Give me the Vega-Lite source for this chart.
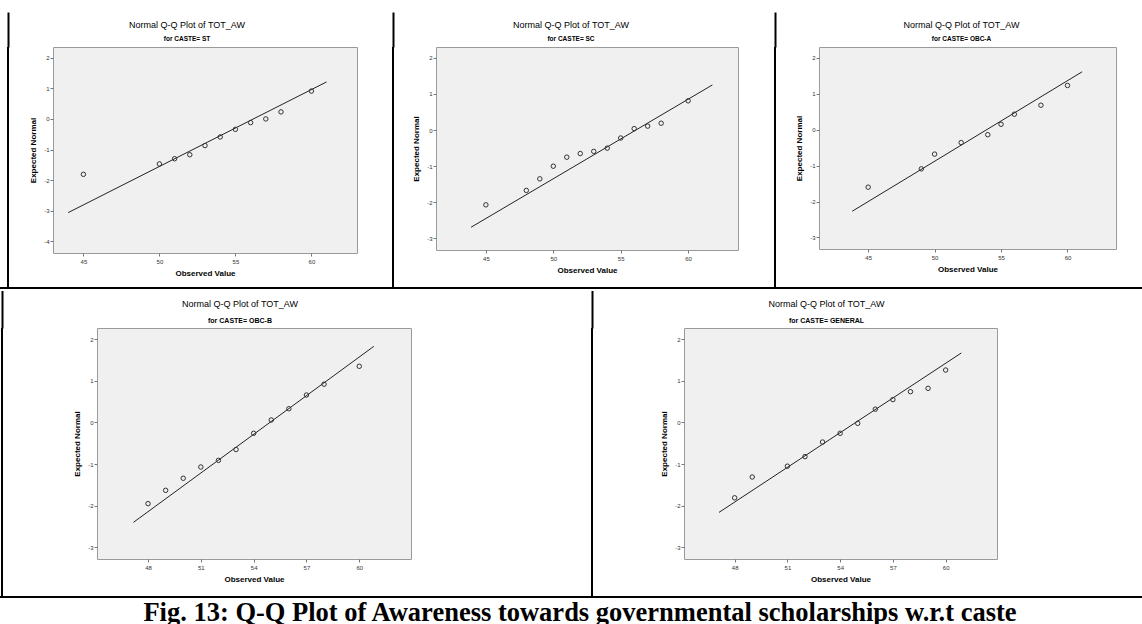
{
  "$schema": "https://vega.github.io/schema/vega-lite/v6.json",
  "background": "white",
  "padding": {"left": 0, "top": 11, "right": 0, "bottom": 0},
  "spacing": 0,
  "datasets": {
    "pts": [
      {"caste": "ST", "observed": 45, "expected": -1.81},
      {"caste": "ST", "observed": 50, "expected": -1.47},
      {"caste": "ST", "observed": 51, "expected": -1.30},
      {"caste": "ST", "observed": 52, "expected": -1.17},
      {"caste": "ST", "observed": 53, "expected": -0.87},
      {"caste": "ST", "observed": 54, "expected": -0.59},
      {"caste": "ST", "observed": 55, "expected": -0.34},
      {"caste": "ST", "observed": 56, "expected": -0.12},
      {"caste": "ST", "observed": 57, "expected": 0.0},
      {"caste": "ST", "observed": 58, "expected": 0.23},
      {"caste": "ST", "observed": 60, "expected": 0.91},
      {"caste": "SC", "observed": 45, "expected": -2.07},
      {"caste": "SC", "observed": 48, "expected": -1.67},
      {"caste": "SC", "observed": 49, "expected": -1.35},
      {"caste": "SC", "observed": 50, "expected": -1.0},
      {"caste": "SC", "observed": 51, "expected": -0.75},
      {"caste": "SC", "observed": 52, "expected": -0.65},
      {"caste": "SC", "observed": 53, "expected": -0.59},
      {"caste": "SC", "observed": 54, "expected": -0.50},
      {"caste": "SC", "observed": 55, "expected": -0.22},
      {"caste": "SC", "observed": 56, "expected": 0.04},
      {"caste": "SC", "observed": 57, "expected": 0.11},
      {"caste": "SC", "observed": 58, "expected": 0.19},
      {"caste": "SC", "observed": 60, "expected": 0.81},
      {"caste": "OBC-A", "observed": 45, "expected": -1.60},
      {"caste": "OBC-A", "observed": 49, "expected": -1.09},
      {"caste": "OBC-A", "observed": 50, "expected": -0.68},
      {"caste": "OBC-A", "observed": 52, "expected": -0.36},
      {"caste": "OBC-A", "observed": 54, "expected": -0.14},
      {"caste": "OBC-A", "observed": 55, "expected": 0.15},
      {"caste": "OBC-A", "observed": 56, "expected": 0.43},
      {"caste": "OBC-A", "observed": 58, "expected": 0.68},
      {"caste": "OBC-A", "observed": 60, "expected": 1.23},
      {"caste": "OBC-B", "observed": 48, "expected": -1.95},
      {"caste": "OBC-B", "observed": 49, "expected": -1.63},
      {"caste": "OBC-B", "observed": 50, "expected": -1.34},
      {"caste": "OBC-B", "observed": 51, "expected": -1.07},
      {"caste": "OBC-B", "observed": 52, "expected": -0.91},
      {"caste": "OBC-B", "observed": 53, "expected": -0.65},
      {"caste": "OBC-B", "observed": 54, "expected": -0.26},
      {"caste": "OBC-B", "observed": 55, "expected": 0.06},
      {"caste": "OBC-B", "observed": 56, "expected": 0.33},
      {"caste": "OBC-B", "observed": 57, "expected": 0.66},
      {"caste": "OBC-B", "observed": 58, "expected": 0.92},
      {"caste": "OBC-B", "observed": 60, "expected": 1.35},
      {"caste": "GENERAL", "observed": 48, "expected": -1.81},
      {"caste": "GENERAL", "observed": 49, "expected": -1.31},
      {"caste": "GENERAL", "observed": 51, "expected": -1.05},
      {"caste": "GENERAL", "observed": 52, "expected": -0.82},
      {"caste": "GENERAL", "observed": 53, "expected": -0.47},
      {"caste": "GENERAL", "observed": 54, "expected": -0.26},
      {"caste": "GENERAL", "observed": 55, "expected": -0.02},
      {"caste": "GENERAL", "observed": 56, "expected": 0.32},
      {"caste": "GENERAL", "observed": 57, "expected": 0.55},
      {"caste": "GENERAL", "observed": 58, "expected": 0.74},
      {"caste": "GENERAL", "observed": 59, "expected": 0.82},
      {"caste": "GENERAL", "observed": 60, "expected": 1.26}
    ],
    "lns": [
      {"caste": "ST", "observed": 44.0, "expected": -3.06},
      {"caste": "ST", "observed": 61.0, "expected": 1.21},
      {"caste": "SC", "observed": 43.9, "expected": -2.69},
      {"caste": "SC", "observed": 61.8, "expected": 1.25},
      {"caste": "OBC-A", "observed": 43.8, "expected": -2.27},
      {"caste": "OBC-A", "observed": 61.1, "expected": 1.61},
      {"caste": "OBC-B", "observed": 47.17, "expected": -2.40},
      {"caste": "OBC-B", "observed": 60.83, "expected": 1.83},
      {"caste": "GENERAL", "observed": 47.11, "expected": -2.16},
      {"caste": "GENERAL", "observed": 60.89, "expected": 1.67}
    ],
    "blank": [{}],
    "cap": [{"t": "Fig. 13: Q-Q Plot of Awareness towards governmental scholarships w.r.t caste"}]
  },
  "vconcat": [
    {
      "spacing": 0,
      "hconcat": [
        {"width": 7, "height": 1, "data": {"name": "blank"}, "mark": {"type": "rect", "opacity": 0}, "view": {"fill": null, "stroke": null}},
        {"width": 2, "height": 240, "data": {"name": "blank"}, "view": {"fill": null, "stroke": null},
          "layer": [
            {"mark": {"type": "rect", "color": "#000"}},
            {"mark": {"type": "point", "opacity": 0, "size": 1, "strokeWidth": 0}, "encoding": {"x": {"datum": 0.5, "type": "quantitative", "scale": {"domain": [0, 1]}, "axis": {"orient": "top", "values": [0.5], "tickSize": 35, "tickWidth": 2, "tickColor": "#000", "labels": false, "domain": false, "title": null}}}}
          ]},
        {"width": 20, "height": 1, "data": {"name": "blank"}, "mark": {"type": "rect", "opacity": 0}, "view": {"fill": null, "stroke": null}},
        {
          "width": 304, "height": 206,
          "title": {"text": ["", "Normal Q-Q Plot of TOT_AW"], "subtitle": "for CASTE= ST", "dx": -18},
          "encoding": {
            "x": {"field": "observed", "type": "quantitative", "scale": {"domain": [43, 63], "nice": false, "zero": false}, "axis": {"values": [45, 50, 55, 60], "title": "Observed Value"}},
            "y": {"field": "expected", "type": "quantitative", "scale": {"domain": [-4.38, 2.35], "nice": false, "zero": false}, "axis": {"values": [-4, -3, -2, -1, 0, 1, 2], "title": "Expected Normal"}}
          },
          "layer": [
            {"data": {"name": "lns"}, "transform": [{"filter": "datum.caste === 'ST'"}], "mark": {"type": "line", "color": "#222", "strokeWidth": 1}},
            {"data": {"name": "pts"}, "transform": [{"filter": "datum.caste === 'ST'"}], "mark": {"type": "point", "shape": "circle", "filled": false, "color": "#333", "size": 20, "strokeWidth": 1, "opacity": 1}}
          ]
        },
        {"width": 34, "height": 1, "data": {"name": "blank"}, "mark": {"type": "rect", "opacity": 0}, "view": {"fill": null, "stroke": null}},
        {"width": 2, "height": 240, "data": {"name": "blank"}, "view": {"fill": null, "stroke": null},
          "layer": [
            {"mark": {"type": "rect", "color": "#000"}},
            {"mark": {"type": "point", "opacity": 0, "size": 1, "strokeWidth": 0}, "encoding": {"x": {"datum": 0.5, "type": "quantitative", "scale": {"domain": [0, 1]}, "axis": {"orient": "top", "values": [0.5], "tickSize": 35, "tickWidth": 2, "tickColor": "#000", "labels": false, "domain": false, "title": null}}}}
          ]},
        {"width": 18, "height": 1, "data": {"name": "blank"}, "mark": {"type": "rect", "opacity": 0}, "view": {"fill": null, "stroke": null}},
        {
          "width": 302, "height": 203,
          "title": {"text": ["", "Normal Q-Q Plot of TOT_AW"], "subtitle": "for CASTE= SC", "dx": -16},
          "encoding": {
            "x": {"field": "observed", "type": "quantitative", "scale": {"domain": [41.3, 63.7], "nice": false, "zero": false}, "axis": {"values": [45, 50, 55, 60], "title": "Observed Value"}},
            "y": {"field": "expected", "type": "quantitative", "scale": {"domain": [-3.32, 2.3], "nice": false, "zero": false}, "axis": {"values": [-3, -2, -1, 0, 1, 2], "title": "Expected Normal"}}
          },
          "layer": [
            {"data": {"name": "lns"}, "transform": [{"filter": "datum.caste === 'SC'"}], "mark": {"type": "line", "color": "#222", "strokeWidth": 1}},
            {"data": {"name": "pts"}, "transform": [{"filter": "datum.caste === 'SC'"}], "mark": {"type": "point", "shape": "circle", "filled": false, "color": "#333", "size": 20, "strokeWidth": 1, "opacity": 1}}
          ]
        },
        {"width": 35, "height": 1, "data": {"name": "blank"}, "mark": {"type": "rect", "opacity": 0}, "view": {"fill": null, "stroke": null}},
        {"width": 2, "height": 240, "data": {"name": "blank"}, "view": {"fill": null, "stroke": null},
          "layer": [
            {"mark": {"type": "rect", "color": "#000"}},
            {"mark": {"type": "point", "opacity": 0, "size": 1, "strokeWidth": 0}, "encoding": {"x": {"datum": 0.5, "type": "quantitative", "scale": {"domain": [0, 1]}, "axis": {"orient": "top", "values": [0.5], "tickSize": 35, "tickWidth": 2, "tickColor": "#000", "labels": false, "domain": false, "title": null}}}}
          ]},
        {"width": 19, "height": 1, "data": {"name": "blank"}, "mark": {"type": "rect", "opacity": 0}, "view": {"fill": null, "stroke": null}},
        {
          "width": 297, "height": 202,
          "title": {"text": ["", "Normal Q-Q Plot of TOT_AW"], "subtitle": "for CASTE= OBC-A", "dx": -6},
          "encoding": {
            "x": {"field": "observed", "type": "quantitative", "scale": {"domain": [41.3, 63.65], "nice": false, "zero": false}, "axis": {"values": [45, 50, 55, 60], "title": "Observed Value"}},
            "y": {"field": "expected", "type": "quantitative", "scale": {"domain": [-3.32, 2.3], "nice": false, "zero": false}, "axis": {"values": [-3, -2, -1, 0, 1, 2], "title": "Expected Normal"}}
          },
          "layer": [
            {"data": {"name": "lns"}, "transform": [{"filter": "datum.caste === 'OBC-A'"}], "mark": {"type": "line", "color": "#222", "strokeWidth": 1}},
            {"data": {"name": "pts"}, "transform": [{"filter": "datum.caste === 'OBC-A'"}], "mark": {"type": "point", "shape": "circle", "filled": false, "color": "#333", "size": 20, "strokeWidth": 1, "opacity": 1}}
          ]
        }
      ]
    },
    {"width": 1142, "height": 2, "data": {"name": "blank"}, "mark": {"type": "rect", "color": "#000"}, "view": {"fill": null, "stroke": null}},
    {
      "spacing": 0,
      "hconcat": [
        {"width": 1, "height": 1, "data": {"name": "blank"}, "mark": {"type": "rect", "opacity": 0}, "view": {"fill": null, "stroke": null}},
        {"width": 2, "height": 268, "data": {"name": "blank"}, "view": {"fill": null, "stroke": null},
          "layer": [
            {"mark": {"type": "rect", "color": "#000"}},
            {"mark": {"type": "point", "opacity": 0, "size": 1, "strokeWidth": 0}, "encoding": {"x": {"datum": 0.5, "type": "quantitative", "scale": {"domain": [0, 1]}, "axis": {"orient": "top", "values": [0.5], "tickSize": 37.5, "tickWidth": 2, "tickColor": "#000", "labels": false, "domain": false, "title": null}}}}
          ]},
        {"width": 70, "height": 1, "data": {"name": "blank"}, "mark": {"type": "rect", "opacity": 0}, "view": {"fill": null, "stroke": null}},
        {
          "width": 314, "height": 231,
          "title": {"text": ["", "Normal Q-Q Plot of TOT_AW"], "subtitle": "for CASTE= OBC-B", "dx": -14, "subtitleFontSize": 7, "lineHeight": 7, "subtitlePadding": 8.5, "offset": 4},
          "encoding": {
            "x": {"field": "observed", "type": "quantitative", "scale": {"domain": [45.1, 62.94], "nice": false, "zero": false}, "axis": {"values": [48, 51, 54, 57, 60], "title": "Observed Value"}},
            "y": {"field": "expected", "type": "quantitative", "scale": {"domain": [-3.28, 2.27], "nice": false, "zero": false}, "axis": {"values": [-3, -2, -1, 0, 1, 2], "title": "Expected Normal"}}
          },
          "layer": [
            {"data": {"name": "lns"}, "transform": [{"filter": "datum.caste === 'OBC-B'"}], "mark": {"type": "line", "color": "#222", "strokeWidth": 1}},
            {"data": {"name": "pts"}, "transform": [{"filter": "datum.caste === 'OBC-B'"}], "mark": {"type": "point", "shape": "circle", "filled": false, "color": "#333", "size": 20, "strokeWidth": 1, "opacity": 1}}
          ]
        },
        {"width": 179, "height": 1, "data": {"name": "blank"}, "mark": {"type": "rect", "opacity": 0}, "view": {"fill": null, "stroke": null}},
        {"width": 2, "height": 268, "data": {"name": "blank"}, "view": {"fill": null, "stroke": null},
          "layer": [
            {"mark": {"type": "rect", "color": "#000"}},
            {"mark": {"type": "point", "opacity": 0, "size": 1, "strokeWidth": 0}, "encoding": {"x": {"datum": 0.5, "type": "quantitative", "scale": {"domain": [0, 1]}, "axis": {"orient": "top", "values": [0.5], "tickSize": 37.5, "tickWidth": 2, "tickColor": "#000", "labels": false, "domain": false, "title": null}}}}
          ]},
        {"width": 67, "height": 1, "data": {"name": "blank"}, "mark": {"type": "rect", "opacity": 0}, "view": {"fill": null, "stroke": null}},
        {
          "width": 313, "height": 231,
          "title": {"text": ["", "Normal Q-Q Plot of TOT_AW"], "subtitle": "for CASTE= GENERAL", "dx": -14, "subtitleFontSize": 7, "lineHeight": 7, "subtitlePadding": 8.5, "offset": 4},
          "encoding": {
            "x": {"field": "observed", "type": "quantitative", "scale": {"domain": [45.12, 62.92], "nice": false, "zero": false}, "axis": {"values": [48, 51, 54, 57, 60], "title": "Observed Value"}},
            "y": {"field": "expected", "type": "quantitative", "scale": {"domain": [-3.28, 2.27], "nice": false, "zero": false}, "axis": {"values": [-3, -2, -1, 0, 1, 2], "title": "Expected Normal"}}
          },
          "layer": [
            {"data": {"name": "lns"}, "transform": [{"filter": "datum.caste === 'GENERAL'"}], "mark": {"type": "line", "color": "#222", "strokeWidth": 1}},
            {"data": {"name": "pts"}, "transform": [{"filter": "datum.caste === 'GENERAL'"}], "mark": {"type": "point", "shape": "circle", "filled": false, "color": "#333", "size": 20, "strokeWidth": 1, "opacity": 1}}
          ]
        }
      ]
    },
    {"width": 1142, "height": 2, "data": {"name": "blank"}, "mark": {"type": "rect", "color": "#000"}, "view": {"fill": null, "stroke": null}},
    {
      "width": 1142, "height": 28,
      "data": {"name": "cap"},
      "mark": {"type": "text", "font": "Liberation Serif", "fontWeight": "bold", "fontSize": 26.5, "baseline": "alphabetic", "dy": 9, "dx": 9, "color": "#000", "clip": true},
      "encoding": {"text": {"field": "t"}},
      "view": {"fill": null, "stroke": null}
    }
  ],
  "config": {
    "font": "Liberation Sans",
    "locale": {"number": {"decimal": ".", "thousands": ",", "grouping": [3], "currency": ["$", ""], "minus": "-"}},
    "view": {"fill": "#f0f0f0", "stroke": "#9a9a9a", "strokeWidth": 1},
    "axis": {
      "domain": false, "grid": false, "ticks": true, "tickSize": 3, "tickColor": "#777",
      "labelFont": "Liberation Sans", "labelFontSize": 6, "labelColor": "#333", "labelPadding": 1,
      "titleFont": "Liberation Sans", "titleFontSize": 8, "titleFontWeight": "bold", "titleColor": "#000"
    },
    "axisY": {"titlePadding": 6},
    "axisX": {"titlePadding": 5, "labelPadding": 2},
    "title": {
      "font": "Liberation Sans", "fontSize": 9, "fontWeight": "normal", "color": "#000", "lineHeight": 6.5,
      "subtitleFont": "Liberation Sans", "subtitleFontSize": 6.5, "subtitleFontWeight": "bold", "subtitleColor": "#000",
      "subtitlePadding": 6, "offset": 5, "anchor": "middle"
    }
  }
}
